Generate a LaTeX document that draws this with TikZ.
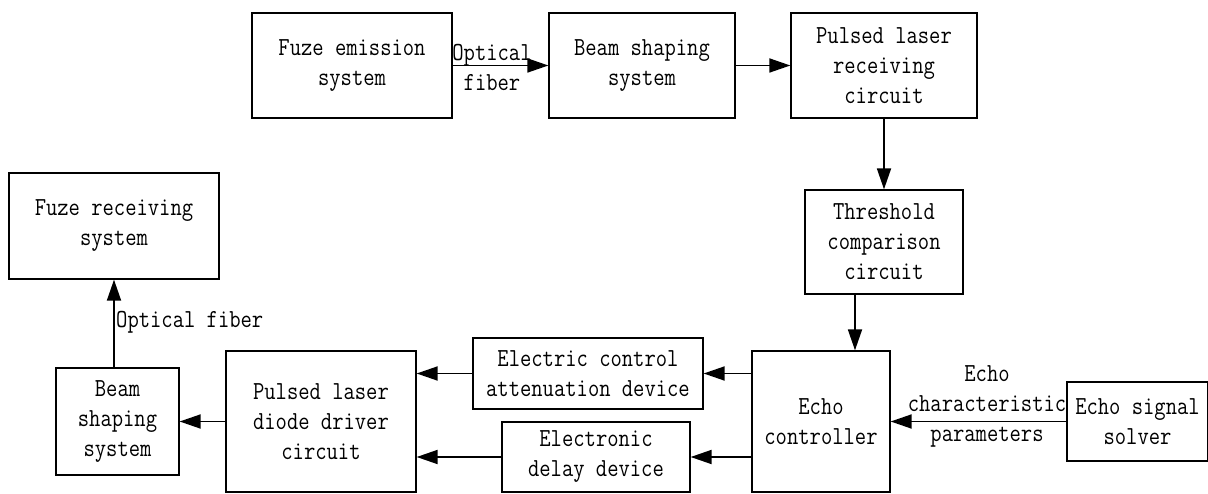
\documentclass[tikz,border=0pt]{standalone}
\usepackage{fontspec}
\usetikzlibrary{arrows.meta}
\newfontfamily\dgfont{Latin Modern Mono}[FakeStretch=0.845]

\tikzset{
  blk/.style={draw, line width=1.3pt, rectangle, inner sep=0pt, align=center,
              font=\dgfont\fontsize{26}{30}\selectfont},
  lbl/.style={inner sep=0pt, align=center, font=\dgfont\fontsize{26}{30}\selectfont},
  arr/.style={line width=1.8pt, -{Triangle[length=21pt,width=14pt]}}
}

\begin{document}
\begin{tikzpicture}[x=1pt, y=-1pt]
\useasboundingbox (0,0) rectangle (1208,494);

% upper chain
\node[blk, minimum width=200pt, minimum height=105pt] (emit) at (352,65.5) {Fuze emission\\system};
\node[blk, minimum width=186pt, minimum height=105pt] (bs1) at (642,65.5) {Beam shaping\\system};
\node[blk, minimum width=186pt, minimum height=105pt] (plr) at (884,65.5) {Pulsed laser\\receiving\\circuit};
\node[blk, minimum width=158pt, minimum height=104pt] (thr) at (884,242) {Threshold\\comparison\\circuit};

% lower chain
\node[blk, minimum width=138pt, minimum height=141pt] (echo) at (821,421.5) {Echo\\controller};
\node[blk, minimum width=141pt, minimum height=79pt] (solver) at (1137.5,421.5) {Echo signal\\solver};
\node[blk, minimum width=230pt, minimum height=71pt] (eca) at (588,373.5) {Electric control\\attenuation device};
\node[blk, minimum width=188pt, minimum height=70pt] (edd) at (596,457) {Electronic\\delay device};
\node[blk, minimum width=190pt, minimum height=141pt] (pld) at (321,421.5) {Pulsed laser\\diode driver\\circuit};
\node[blk, minimum width=123pt, minimum height=107pt] (bs2) at (117.5,421.5) {Beam\\shaping\\system};
\node[blk, minimum width=210pt, minimum height=106pt] (fr) at (114,226) {Fuze receiving\\system};

% connectors
\draw[arr] (emit.east) -- (bs1.west);
\node[lbl] (lab1) at (492,67) {Optical\\fiber};
\draw[arr] (bs1.east) -- (plr.west);
\draw[arr] (plr.south) -- (thr.north);
\draw[arr] ([xshift=-29pt]thr.south) -- ([xshift=-29pt]thr.south |- echo.north);
\draw[arr] (solver.west) -- (solver.west -| echo.east);
\node[lbl] (lab2) at (987,406) {Echo\\characteristic\\parameters};
\draw[arr] (echo.west |- eca.east) -- (eca.east);
\draw[arr] (echo.west |- edd.east) -- (edd.east);
\draw[arr] (eca.west) -- (eca.west -| pld.east);
\draw[arr] (edd.west) -- (edd.west -| pld.east);
\draw[arr] (pld.west |- bs2.east) -- (bs2.east);
\draw[arr] (bs2.north -| fr.south) -- (fr.south);
\node[lbl, anchor=west] (lab3) at (116,322) {Optical fiber};
\end{tikzpicture}
\end{document}
